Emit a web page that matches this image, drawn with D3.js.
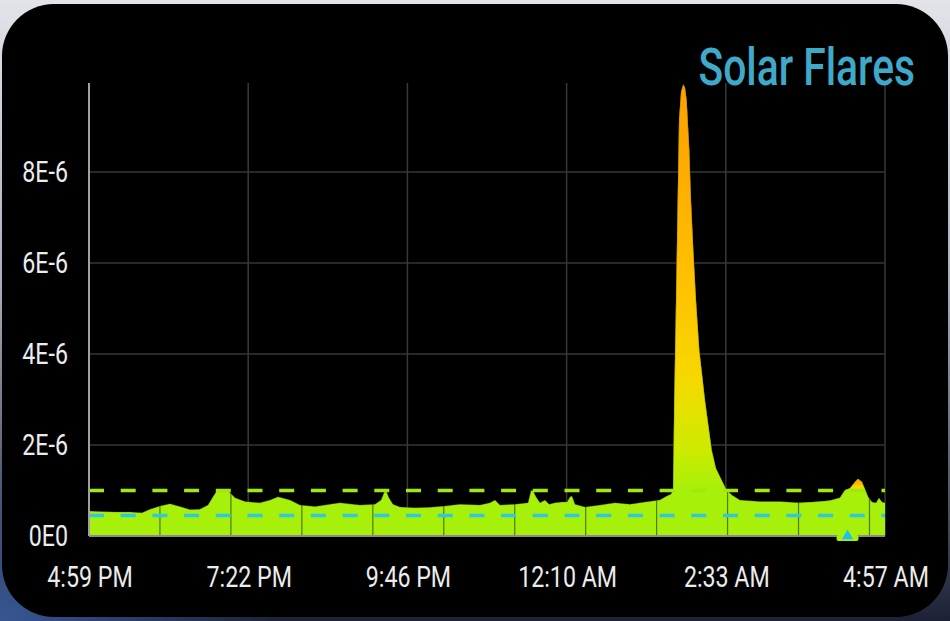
<!DOCTYPE html>
<html><head><meta charset="utf-8">
<script src="https://cdn.jsdelivr.net/npm/d3@7"></script>
<style>html,body{margin:0;padding:0;width:950px;height:621px;overflow:hidden;background:#c8ccd6;}</style>
</head><body><svg id="c" width="950" height="621"></svg>
<script>
// ---- data ----
const timeLabels = ["4:59 PM", "7:22 PM", "9:46 PM", "12:10 AM", "2:33 AM", "4:57 AM"];
const spanMinutes = 718; // 4:59 PM -> 4:57 AM
const yTickValues = [0, 2e-6, 4e-6, 6e-6, 8e-6];
const yTickLabels = ["0E0", "2E-6", "4E-6", "6E-6", "8E-6"];
// minutes after 4:59 PM
const minutes = [0, 9.9, 23.5, 37, 47.8, 55, 64, 73, 82, 91, 100, 107.3, 111.8, 115.5, 120, 125.4, 131.7, 140.7, 154.2, 163.3, 170.5, 181.3, 190.3, 203.9, 217.4, 226.4, 244.4, 258, 263.4, 266.1, 267.9, 270.6, 274.2, 280.5, 294, 307.6, 321, 334.6, 352.7, 361.7, 366.2, 370.7, 384.3, 396, 398.7, 400.5, 403.2, 406.8, 411.3, 415, 420.3, 426.6, 431.2, 433.9, 435.7, 438.4, 447.4, 461, 474.5, 488, 501.5, 515, 521.4, 525, 526.8, 527.9, 529.5, 531, 532.2, 534, 536, 537.6, 539.1, 541.5, 543, 545.1, 547.5, 550.5, 555.6, 561.7, 565.5, 570.6, 575.1, 579.9, 587.1, 605.2, 623.3, 641.3, 659.4, 668.4, 677.4, 681.9, 686.4, 691, 693.6, 697.2, 700.9, 702.7, 706.3, 709.9, 712.6, 715.3, 718];
// X-ray flux in units of 1E-6
const fluxMicro = [0.55, 0.54, 0.53, 0.53, 0.51, 0.59, 0.66, 0.71, 0.65, 0.58, 0.59, 0.68, 0.86, 1.0, 1.0, 1.0, 0.84, 0.76, 0.73, 0.79, 0.86, 0.79, 0.68, 0.65, 0.70, 0.73, 0.68, 0.70, 0.79, 0.95, 1.0, 0.84, 0.70, 0.64, 0.62, 0.63, 0.66, 0.70, 0.68, 0.73, 0.79, 0.68, 0.70, 0.73, 1.0, 1.0, 0.86, 0.73, 0.79, 0.70, 0.73, 0.75, 0.75, 0.86, 0.88, 0.70, 0.64, 0.68, 0.73, 0.70, 0.75, 0.79, 0.88, 0.92, 1.01, 2.99, 5.19, 7.38, 9.14, 9.76, 9.93, 9.85, 9.58, 8.48, 7.38, 6.29, 5.19, 4.09, 2.99, 1.89, 1.49, 1.23, 1.01, 0.90, 0.79, 0.76, 0.76, 0.73, 0.76, 0.78, 0.84, 1.01, 1.05, 1.19, 1.26, 1.19, 0.97, 0.86, 0.75, 0.73, 0.84, 0.75, 0.73];
const segmentBreaks = [64, 128, 192, 256, 320, 384, 448, 512, 576, 640, 704];
const thresholdLevel = 1e-6;   // green dashed
const backgroundLevel = 0.45e-6; // cyan dashed
const markerMinute = 684.2;

const data = minutes.map((t, i) => ({t, v: fluxMicro[i] * 1e-6}));

// ---- layout ----
const L = 89, R = 885, T = 83, B = 536;
const svg = d3.select("#c");
const defs = svg.append("defs");

// page background
const bg = defs.append("linearGradient").attr("id", "bg").attr("x1", 0).attr("y1", 0).attr("x2", 0).attr("y2", 1);
bg.append("stop").attr("offset", 0).attr("stop-color", "#e2e4ea");
bg.append("stop").attr("offset", 0.45).attr("stop-color", "#a9aebb");
bg.append("stop").attr("offset", 1).attr("stop-color", "#1c2136");
const bg2 = defs.append("radialGradient").attr("id", "bg2").attr("cx", 0).attr("cy", 1).attr("r", 0.3);
bg2.append("stop").attr("offset", 0).attr("stop-color", "#3a5c9c").attr("stop-opacity", 0.9);
bg2.append("stop").attr("offset", 1).attr("stop-color", "#3a5c9c").attr("stop-opacity", 0);
svg.append("rect").attr("width", 950).attr("height", 621).attr("fill", "url(#bg)");
svg.append("rect").attr("width", 950).attr("height", 621).attr("fill", "url(#bg2)");
svg.append("rect").attr("x", 2).attr("y", 4).attr("width", 946).attr("height", 613).attr("rx", 52).attr("fill", "#000");

const x = d3.scaleLinear().domain([0, spanMinutes]).range([L, R]);
const y = d3.scaleLinear().domain([0, 9.956e-6]).range([B, T]);
const tickMinutes = timeLabels.map((_, i) => i * spanMinutes / (timeLabels.length - 1));

// grid
const grid = svg.append("g");
grid.selectAll("line.h").data(yTickValues.filter(v => v > 0)).join("line")
  .attr("x1", L).attr("x2", R).attr("y1", d => y(d)).attr("y2", d => y(d))
  .attr("stroke", "#363636").attr("stroke-width", 1.5);
grid.selectAll("line.v").data(tickMinutes.slice(1)).join("line")
  .attr("x1", d => x(d)).attr("x2", d => x(d)).attr("y1", T).attr("y2", B)
  .attr("stroke", "#383838").attr("stroke-width", 1.5);

// area
const area = d3.area().x(d => x(d.t)).y0(y(0)).y1(d => y(d.v));
const LIME = "#a6f00a";
svg.append("path").datum(data).attr("d", area).attr("fill", LIME);

const bounds = [0, ...segmentBreaks, spanMinutes];
for (let i = 0; i < bounds.length - 1; i++) {
  const a = bounds[i], b = bounds[i + 1];
  const mx = d3.max(data.filter(d => d.t >= a && d.t <= b), d => d.v);
  if (mx > 1.1e-6) {
    const g = defs.append("linearGradient").attr("id", "seg" + i).attr("gradientUnits", "userSpaceOnUse")
      .attr("x1", 0).attr("x2", 0).attr("y1", y(thresholdLevel)).attr("y2", y(mx));
    [[0, LIME], [0.1, "#cdeb00"], [0.28, "#f6d800"], [0.5, "#ffc200"], [0.8, "#ffab00"], [1, "#ffa000"]].forEach(([o, c]) =>
      g.append("stop").attr("offset", o).attr("stop-color", c));
    defs.append("clipPath").attr("id", "clip" + i).append("rect")
      .attr("x", x(a)).attr("width", x(b) - x(a)).attr("y", 0).attr("height", 621);
    svg.append("path").datum(data).attr("d", area).attr("fill", "url(#seg" + i + ")")
      .attr("clip-path", "url(#clip" + i + ")");
  }
}

// segment separators inside the fill
defs.append("clipPath").attr("id", "areaClip").append("path").datum(data).attr("d", area);
svg.append("g").attr("clip-path", "url(#areaClip)")
  .selectAll("line").data(segmentBreaks).join("line")
  .attr("x1", d => x(d)).attr("x2", d => x(d)).attr("y1", T).attr("y2", B)
  .attr("stroke", "rgba(0,0,0,0.5)").attr("stroke-width", 1.2);

// top edge
svg.append("path").datum(data)
  .attr("d", d3.line().x(d => x(d.t)).y(d => y(d.v)))
  .attr("fill", "none").attr("stroke", "rgba(70,50,0,0.4)").attr("stroke-width", 0.8);

// threshold lines
svg.append("line").attr("x1", L).attr("x2", R).attr("y1", y(thresholdLevel)).attr("y2", y(thresholdLevel))
  .attr("stroke", "#a2e80a").attr("stroke-width", 3.5).attr("stroke-dasharray", "15 16.7");
svg.append("line").attr("x1", L).attr("x2", R).attr("y1", y(backgroundLevel)).attr("y2", y(backgroundLevel))
  .attr("stroke", "#2ec8e0").attr("stroke-width", 3.5).attr("stroke-dasharray", "15 16.7");

// axes lines
svg.append("line").attr("x1", L).attr("x2", R).attr("y1", B).attr("y2", B).attr("stroke", "#8c8c8c").attr("stroke-width", 2);
svg.append("line").attr("x1", L).attr("x2", L).attr("y1", T).attr("y2", B).attr("stroke", "#a0a0a0").attr("stroke-width", 2);

// marker
svg.append("rect").attr("x", x(markerMinute) - 11).attr("y", B - 1).attr("width", 22).attr("height", 6).attr("rx", 2).attr("fill", LIME);
svg.append("path").attr("d", d3.symbol(d3.symbolTriangle).size(55)())
  .attr("transform", `translate(${x(markerMinute)},${B})`).attr("fill", "#1ec0f0");

// tick labels
const font = "Roboto, 'Noto Sans', sans-serif";
svg.append("g").selectAll("text").data(yTickValues).join("text")
  .attr("transform", d => `translate(68,${y(d)}) scale(0.8,1)`)
  .attr("text-anchor", "end").attr("dy", "0.36em")
  .attr("font-family", font).attr("font-size", 29).attr("fill", "#ececec")
  .text((d, i) => yTickLabels[i]);
svg.append("g").selectAll("text").data(tickMinutes).join("text")
  .attr("transform", d => `translate(${x(d) + 1},587) scale(0.8,1)`)
  .attr("text-anchor", "middle")
  .attr("font-family", font).attr("font-size", 29).attr("fill", "#ececec")
  .text((d, i) => timeLabels[i]);

// title
svg.append("text").attr("transform", "translate(915,85) scale(0.8,1)").attr("text-anchor", "end")
  .attr("font-family", font).attr("font-weight", 500).attr("font-size", 51).attr("fill", "#3fa9c9")
  .text("Solar Flares");
</script></body></html>
